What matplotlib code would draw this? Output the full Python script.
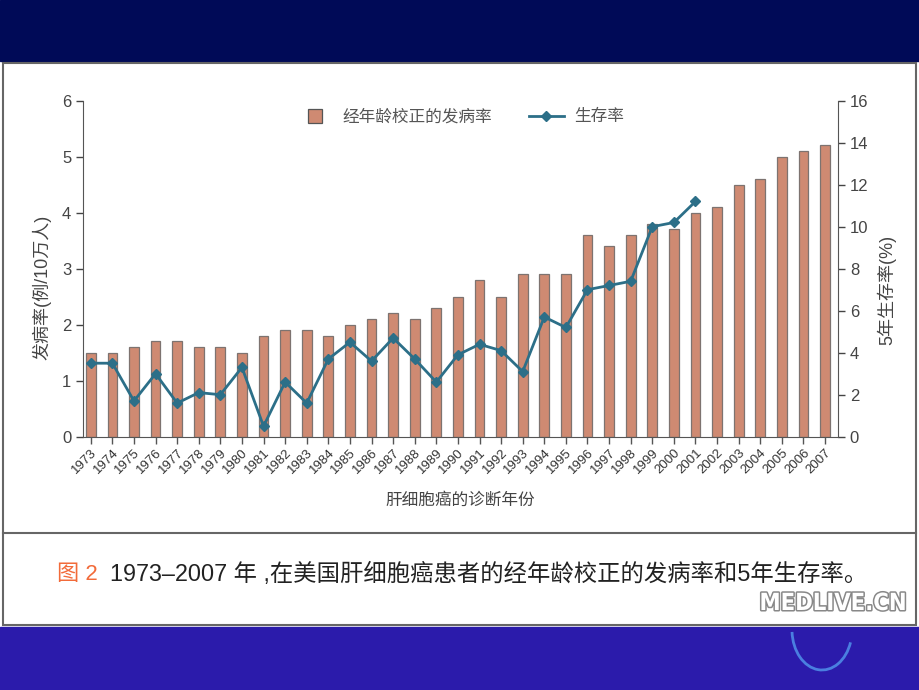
import numpy as np
import matplotlib
matplotlib.use("Agg")
import matplotlib.pyplot as plt
from matplotlib.patches import Rectangle, Arc
from matplotlib.lines import Line2D
import matplotlib.patheffects as pe

plt.rcParams['font.family'] = ['Liberation Sans', 'Noto Sans CJK SC', 'DejaVu Sans']

# data
years = list(range(1973, 2008))
incidence = [1.5, 1.5, 1.6, 1.7, 1.7, 1.6, 1.6, 1.5, 1.8, 1.9, 1.9, 1.8, 2.0, 2.1,
             2.2, 2.1, 2.3, 2.5, 2.8, 2.5, 2.9, 2.9, 2.9, 3.6, 3.4, 3.6, 3.8, 3.7,
             4.0, 4.1, 4.5, 4.6, 5.0, 5.1, 5.2]
surv_years = list(range(1973, 2002))
survival = [3.5, 3.5, 1.7, 3.0, 1.6, 2.1, 2.0, 3.3, 0.5, 2.6, 1.6, 3.7, 4.5, 3.6,
            4.7, 3.7, 2.6, 3.9, 4.4, 4.1, 3.1, 5.7, 5.2, 7.0, 7.2, 7.4, 10.0, 10.2,
            11.2]

bar_label = "经年龄校正的发病率"
line_label = "生存率"
ylabel_left = "发病率(例/10万人)"
ylabel_right = "5年生存率(%)"
xlabel = "肝细胞癌的诊断年份"
caption_head = "图 2"
caption_body = "1973–2007 年 ,在美国肝细胞癌患者的经年龄校正的发病率和5年生存率。"

W, H = 920, 690
fig = plt.figure(figsize=(W / 100, H / 100), dpi=100)

def fx(x):
    return x / W

def fy(y):
    return 1 - y / H

# slide background
fig.patches.append(Rectangle((0, fy(61)), 1, 61 / H, transform=fig.transFigure,
                             color='#000a57', zorder=0))
fig.patches.append(Rectangle((0, 0), 1, (H - 627) / H, transform=fig.transFigure,
                             color='#2b1bab', zorder=0))
fig.patches.append(Rectangle((fx(3), fy(625)), fx(913), (625 - 63) / H,
                             transform=fig.transFigure, facecolor='white',
                             edgecolor='#666666', lw=1.5, zorder=1))
fig.lines.append(Line2D([fx(3), fx(916)], [fy(533), fy(533)], transform=fig.transFigure,
                        color='#666666', lw=1.5, zorder=2))
fig.patches.append(Arc((fx(822), fy(630)), fx(60), 80 / H, angle=0, theta1=185, theta2=330,
                       transform=fig.transFigure, color='#4a7fe0', lw=2, zorder=1))

ax = fig.add_axes([fx(83), fy(436.7), fx(838 - 83), (436.7 - 100.7) / H], zorder=3)
ax.patch.set_alpha(0)
x = np.arange(len(years))
ax.bar(x, incidence, width=0.45, color='#cf8a72', edgecolor='#7d7370',
       linewidth=0.9, zorder=2)
ax.set_xlim(-0.36, len(years) - 0.4)
ax.set_ylim(0, 6)
ax.set_yticks(range(0, 7))
ax.set_xticks(x)
ax.set_xticklabels([str(y) for y in years], rotation=45, ha='right',
                   rotation_mode='anchor', fontsize=9.5, color='#333333')
ax.tick_params(axis='y', labelsize=12, colors='#444444', length=5, width=1)
ax.tick_params(axis='x', length=5, width=1, color='#555555', pad=2)
for s in ['top', 'right']:
    ax.spines[s].set_visible(False)
for s in ['left', 'bottom']:
    ax.spines[s].set_color('#555555')
ax.set_ylabel(ylabel_left, fontsize=13, color='#444444')
ax.yaxis.set_label_coords(-0.042, 0.445)
ax.set_xlabel(xlabel, fontsize=12, color='#444444', labelpad=12)

ax2 = ax.twinx()
sx = np.arange(len(surv_years))
ax2.plot(sx, survival, color='#2c6f88', lw=2, marker='D', markersize=5, zorder=3)
ax2.set_ylim(0, 16)
ax2.set_yticks(range(0, 17, 2))
ax2.tick_params(axis='y', labelsize=12, colors='#444444', length=5, width=1)
for s in ['top', 'left', 'bottom']:
    ax2.spines[s].set_visible(False)
ax2.spines['right'].set_color('#555555')
ax2.set_ylabel(ylabel_right, fontsize=13, color='#444444')
ax2.yaxis.set_label_coords(1.052, 0.437)

h_bar = Line2D([], [], linestyle='none', marker='s', markersize=10,
               markerfacecolor='#cf8a72', markeredgecolor='#555555', markeredgewidth=0.9)
h_line = Line2D([], [], color='#2c6f88', lw=2, marker='D', markersize=5)
leg = ax2.legend([h_bar, h_line], [bar_label, line_label], loc='upper center',
                 bbox_to_anchor=(0.5, 1.02), ncol=2, frameon=False, fontsize=12,
                 handlelength=2.1, handletextpad=0.6, columnspacing=2.2)
for t in leg.get_texts():
    t.set_color('#555555')

# caption
fig.text(fx(57), fy(574), caption_head, fontsize=16, color='#f26b3a', va='center', ha='left')
fig.text(fx(110), fy(574), caption_body, fontsize=16.8, color='#222222', va='center', ha='left')

fig.text(fx(907), fy(603), "MEDLIVE.CN", fontsize=17, fontweight='bold', color='white',
         family='DejaVu Sans', stretch='condensed', ha='right', va='center',
         path_effects=[pe.withStroke(linewidth=2.2, foreground='#888888')])

fig.savefig('out.png', dpi=100)
